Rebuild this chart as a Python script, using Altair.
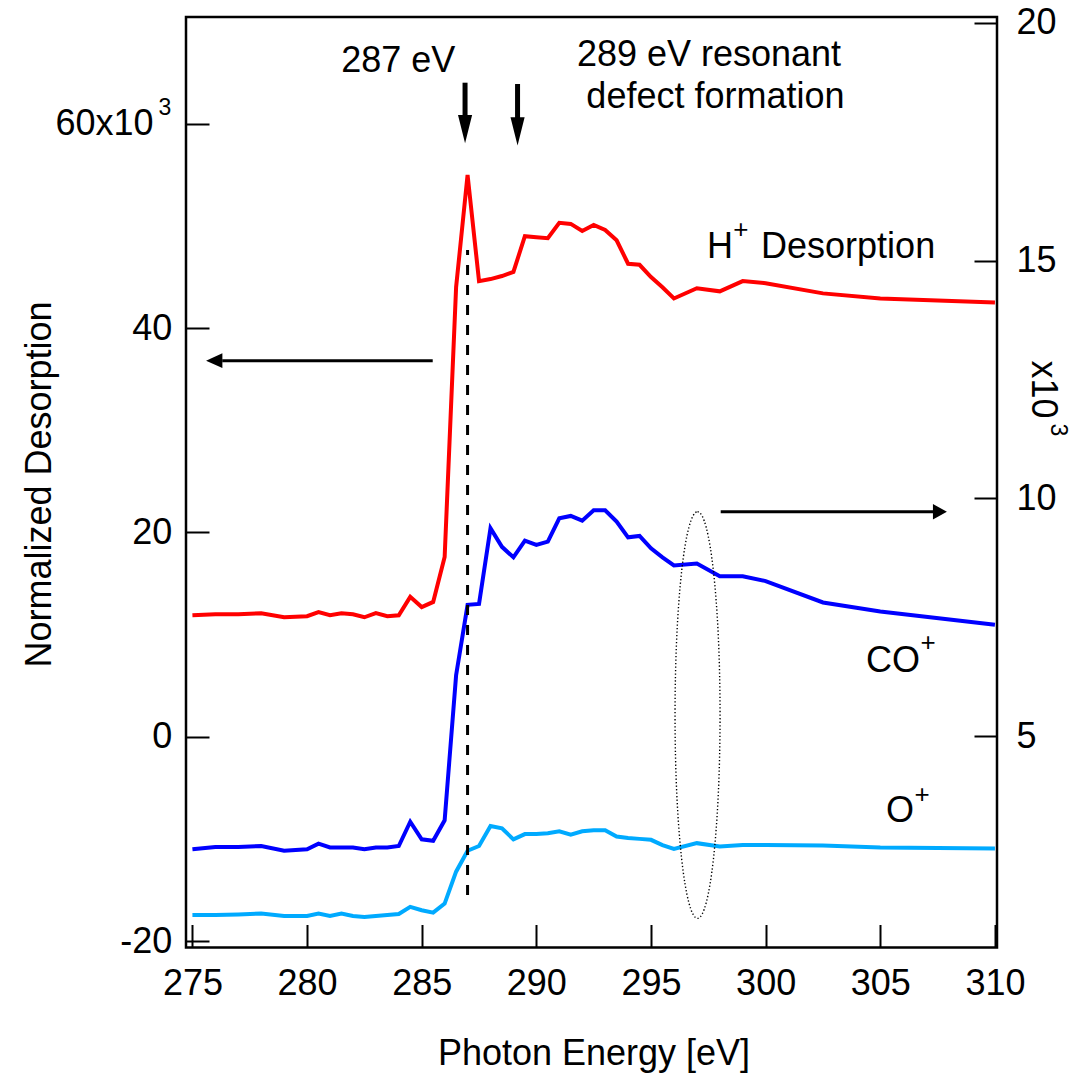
import altair as alt
import pandas as pd

# ---------------- data ----------------
energy = [275, 276, 277, 278, 279, 280, 280.5, 281, 281.5, 282, 282.5, 283, 283.5,
          284, 284.5, 285, 285.5, 286, 286.5, 287, 287.5, 288, 288.5, 289, 289.5,
          290, 290.5, 291, 291.5, 292, 292.5, 293, 293.5, 294, 294.5, 295, 295.5,
          296, 297, 298, 299, 300, 302.5, 305, 310]

h_plus = [11.9, 12.0, 12.0, 12.1, 11.7, 11.8, 12.2, 11.9, 12.1, 12.0, 11.7, 12.1, 11.8,
          11.9, 13.7, 12.7, 13.2, 17.6, 44.0, 55.0, 44.6, 44.8, 45.1, 45.5, 49.0,
          48.9, 48.8, 50.3, 50.2, 49.5, 50.1, 49.6, 48.6, 46.3, 46.2, 45.0, 44.0,
          42.9, 43.9, 43.6, 44.6, 44.4, 43.4, 42.9, 42.5]

co_plus = [2.62, 2.67, 2.67, 2.69, 2.59, 2.62, 2.74, 2.66, 2.66, 2.66, 2.62, 2.66, 2.66,
           2.69, 3.20, 2.83, 2.80, 3.23, 6.28, 7.76, 7.78, 9.37, 8.98, 8.76, 9.11,
           9.02, 9.09, 9.58, 9.63, 9.53, 9.75, 9.75, 9.51, 9.18, 9.21, 8.95, 8.76,
           8.59, 8.63, 8.36, 8.36, 8.26, 7.81, 7.62, 7.34]

o_plus = [1.24, 1.24, 1.25, 1.27, 1.22, 1.22, 1.27, 1.22, 1.27, 1.22, 1.20, 1.22, 1.24,
          1.26, 1.41, 1.34, 1.29, 1.48, 2.15, 2.59, 2.69, 3.11, 3.06, 2.83, 2.94,
          2.94, 2.96, 3.00, 2.93, 3.00, 3.02, 3.02, 2.89, 2.86, 2.84, 2.82, 2.71,
          2.63, 2.75, 2.68, 2.71, 2.71, 2.70, 2.66, 2.64]

x_ticks = [275, 280, 285, 290, 295, 300, 305, 310]
left_ticks = [-20, 0, 20, 40, 60]
right_ticks = [5, 10, 15, 20]

series_names = ["CO+", "O+"]
series_colors = ["#0000ff", "#00aaff"]

# annotation texts (positions in eV / left-axis units)
ctext = ["287 eV", "289 eV resonant", "defect formation"]
ctext_e = [283.98, 297.53, 297.81]
ctext_v = [65.10, 65.66, 61.54]

ltext = ["H", "Desorption", "CO", "O"]
ltext_e = [297.44, 299.80, 304.38, 305.25]
ltext_v = [46.82, 46.82, 6.39, -8.34]

sup_text = ["+", "+", "+"]
sup_e = [298.92, 307.08, 306.82]
sup_v = [49.63, 9.18, -5.70]

# exponent "3" of the axis multipliers (left label, right title)
exp_text = ["3"]
exp_e = [273.80]
exp_v = [61.54]
exp_r_text = ["3"]
exp_r_e = [312.75]
exp_r_v = [30.03]

# arrows: shafts (start/end) and heads
shaft_e = [276.30, 298.04, 286.89, 289.18]
shaft_e2 = [285.48, 307.30, 286.89, 289.18]
shaft_v = [36.81, 22.03, 64.02, 63.89]
shaft_v2 = [36.81, 22.03, 60.56, 60.37]
shaft_w = [3, 3, 5, 5]

head_e = [275.95, 307.60, 286.89, 289.18]
head_v = [36.81, 22.03, 59.47, 59.25]
head_shape = ["M-1,0L1,-0.9L1,0.9Z", "M1,0L-1,-1.1L-1,1.1Z",
              "M0,1L-0.5,-1L0.5,-1Z", "M0,1L-0.5,-1L0.5,-1Z"]
head_size = [266, 196, 801, 801]

dash_e = [287.0]
dash_v = [-15.48]
dash_v2 = [47.64]

ellipse_e = [297.03]
ellipse_v = [2.13]
ellipse_shape = ["M0,-1C0.0611,-1 0.1107,-0.5523 0.1107,0C0.1107,0.5523 0.0611,1 0,1"
                 "C-0.0611,1 -0.1107,0.5523 -0.1107,0C-0.1107,-0.5523 -0.0611,-1 0,-1Z"]
ellipse_size = [165324]

# ---------------- chart ----------------
FONT = "Liberation Sans"
X_DOMAIN = [274.72, 310.09]
L_DOMAIN = [-20.62, 70.45]
R_DOMAIN = [0.556, 20.12]

xscale = alt.Scale(domain=X_DOMAIN, nice=False, zero=False)
lscale = alt.Scale(domain=L_DOMAIN, nice=False, zero=False)
rscale = alt.Scale(domain=R_DOMAIN, nice=False, zero=False)

df_h = pd.DataFrame({"E": energy, "v": h_plus})
n = len(energy)
df_r = pd.DataFrame({"E": energy + energy, "v": co_plus + o_plus,
                     "ion": [series_names[0]] * n + [series_names[1]] * n})
df_ctext = pd.DataFrame({"E": ctext_e, "v": ctext_v, "t": ctext})
df_ltext = pd.DataFrame({"E": ltext_e, "v": ltext_v, "t": ltext})
df_sup = pd.DataFrame({"E": sup_e, "v": sup_v, "t": sup_text})
df_exp = pd.DataFrame({"E": exp_e, "v": exp_v, "t": exp_text})
df_exp_r = pd.DataFrame({"E": exp_r_e, "v": exp_r_v, "t": exp_r_text})
df_shaft = pd.DataFrame({"E": shaft_e, "E2": shaft_e2, "v": shaft_v, "v2": shaft_v2, "w": shaft_w})
df_head = pd.DataFrame({"E": head_e, "v": head_v, "s": head_shape, "z": head_size})
df_dash = pd.DataFrame({"E": dash_e, "v": dash_v, "v2": dash_v2})
df_ell = pd.DataFrame({"E": ellipse_e, "v": ellipse_v, "s": ellipse_shape, "z": ellipse_size})

x_axis = alt.Axis(
    orient="bottom", values=x_ticks, format="d", labelFont=FONT, labelFontSize=36,
    labelColor="black", labelPadding=42, labelFlush=False, labelOverlap=False,
    tickSize={"expr": "-23"}, tickWidth=2, tickColor="black", domain=False, grid=False,
    title="Photon Energy [eV]", titleFont=FONT, titleFontSize=36, titleFontWeight="normal",
    titleColor="black", titleX=407.5, titleY=105.5, titleAlign="center",
    titleBaseline="middle", titleAngle=0,
)

left_axis = alt.Axis(
    orient="left", values=left_ticks,
    labelExpr="datum.value == 60 ? '60x10' : '' + datum.value",
    labelFont=FONT, labelFontSize=36, labelColor="black",
    labelPadding={"condition": {"test": "datum.value == 60", "value": 56}, "value": 37.3},
    labelFlush=False, labelOverlap=False,
    tickSize={"expr": "-23"}, tickWidth=2, tickColor="black", domain=False, grid=False,
    title="Normalized Desorption", titleFont=FONT, titleFontSize=36, titleFontWeight="normal",
    titleColor="black", titleAngle=270, titleX=-147, titleY=467, titleAlign="center",
    titleBaseline="middle",
)

right_axis = alt.Axis(
    orient="right", values=right_ticks, format="d",
    labelFont=FONT, labelFontSize=36, labelColor="black", labelPadding=42,
    labelFlush=False, labelOverlap=False,
    tickSize={"expr": "-23"}, tickWidth=2, tickColor="black", domain=False, grid=False,
    title="x10", titleFont=FONT, titleFontSize=36, titleFontWeight="normal",
    titleColor="black", titleAngle=90, titleX=45.8, titleY=372, titleAlign="center",
    titleBaseline="middle",
)

X_ = alt.X("E:Q", scale=xscale, axis=x_axis)
Y_ = alt.Y("v:Q", scale=lscale, axis=None)

h_line = alt.Chart(df_h).mark_line(color="#ff0000", strokeWidth=4).encode(
    x=X_,
    y=alt.Y("v:Q", scale=lscale, axis=left_axis),
)

r_lines = alt.Chart(df_r).mark_line(strokeWidth=4).encode(
    x=X_,
    y=alt.Y("v:Q", scale=rscale, axis=right_axis),
    color=alt.Color("ion:N", scale=alt.Scale(domain=series_names, range=series_colors), legend=None),
    detail="ion:N",
)

dash = alt.Chart(df_dash).mark_rule(color="black", strokeWidth=3, strokeDash=[10, 10]).encode(
    x=X_, y=Y_, y2="v2:Q",
)

shafts = alt.Chart(df_shaft).mark_rule(color="black").encode(
    x=X_, x2="E2:Q", y=Y_, y2="v2:Q",
    strokeWidth=alt.StrokeWidth("w:Q", scale=None),
)

heads = alt.Chart(df_head).mark_point(filled=True, color="black", opacity=1, strokeWidth=0).encode(
    x=X_, y=Y_,
    shape=alt.Shape("s:N", scale=None),
    size=alt.Size("z:Q", scale=None),
)

ellipse = alt.Chart(df_ell).mark_point(filled=False, color="black", opacity=1, strokeWidth=1.4,
                                       strokeDash=[1.3, 2.2]).encode(
    x=X_, y=Y_,
    shape=alt.Shape("s:N", scale=None),
    size=alt.Size("z:Q", scale=None),
)

ctexts = alt.Chart(df_ctext).mark_text(font=FONT, fontSize=36, color="black",
                                       baseline="alphabetic", align="center").encode(
    x=X_, y=Y_, text="t:N",
)

ltexts = alt.Chart(df_ltext).mark_text(font=FONT, fontSize=36, color="black",
                                       baseline="alphabetic", align="left").encode(
    x=X_, y=Y_, text="t:N",
)

sups = alt.Chart(df_sup).mark_text(font=FONT, fontSize=26, color="black", baseline="middle",
                                   align="center").encode(
    x=X_, y=Y_, text="t:N",
)

exp_left = alt.Chart(df_exp).mark_text(font=FONT, fontSize=23, color="black", baseline="middle",
                                       align="center").encode(
    x=X_, y=Y_, text="t:N",
)

exp_right = alt.Chart(df_exp_r).mark_text(font=FONT, fontSize=23, color="black", baseline="middle",
                                          align="center", angle=90).encode(
    x=X_, y=Y_, text="t:N",
)

chart = alt.layer(
    h_line, r_lines, dash, shafts, heads, ellipse, ctexts, ltexts, sups, exp_left, exp_right
).resolve_scale(
    y="independent"
).properties(
    width=811, height=930.5,
    autosize=alt.AutoSizeParams(type="none"),
    padding={"left": 186, "top": 17, "right": 80, "bottom": 130},
    background="white",
).configure_view(
    stroke="black", strokeWidth=2.5
)

chart.save("out.html", embed_options={"renderer": "svg", "actions": False})
